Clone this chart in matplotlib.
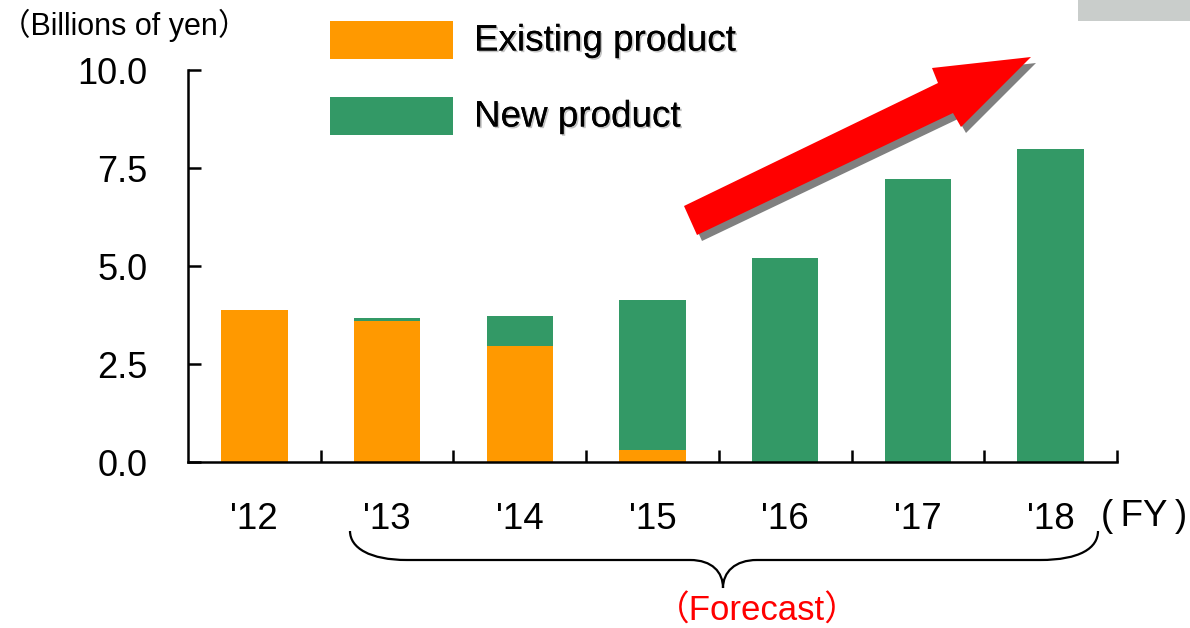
import matplotlib
matplotlib.use("Agg")
import matplotlib.pyplot as plt
import matplotlib.transforms as mtransforms
from matplotlib.patches import Polygon, Rectangle, PathPatch
from matplotlib.path import Path
import matplotlib.patheffects as pe
import numpy as np

plt.rcParams['font.family'] = ['Liberation Sans', 'Noto Sans CJK JP', 'DejaVu Sans']

# ---- data ----
years = ["'12", "'13", "'14", "'15", "'16", "'17", "'18"]
existing = [3.87, 3.59, 2.96, 0.31, 0.0, 0.0, 0.0]
new = [0.0, 0.08, 0.76, 3.82, 5.20, 7.22, 7.98]
yticks = [0.0, 2.5, 5.0, 7.5, 10.0]
series_names = ["Existing product", "New product"]

orange = "#FF9900"
green = "#339966"

W, H = 1190, 628
fig = plt.figure(figsize=(W / 100, H / 100), dpi=100)
# pixel transform (origin top-left)
px = mtransforms.Affine2D().scale(1 / W, -1 / H).translate(0, 1) + fig.transFigure

ax = fig.add_axes([188 / W, 1 - 462 / H, (1117 - 188) / W, (462 - 70) / H])
x = np.arange(len(years))
ax.bar(x, existing, width=0.5, color=orange, linewidth=0)
ax.bar(x, new, width=0.5, bottom=existing, color=green, linewidth=0)

ax.set_xlim(-0.5, len(years) - 0.5)
ax.set_ylim(0, 10)
for s in ['top', 'right']:
    ax.spines[s].set_visible(False)
for s in ['left', 'bottom']:
    ax.spines[s].set_linewidth(1.8)

ax.set_yticks(yticks, [f"{v:.1f}" for v in yticks])
ax.tick_params(axis='y', direction='in', length=9, width=1.8, pad=29, labelsize=26)
ax.set_xticks(np.arange(len(years)) + 0.5)
ax.set_xticklabels([])
ax.tick_params(axis='x', which='major', direction='in', length=9, width=1.8)
ax.set_xticks(x, years, minor=True)
ax.tick_params(axis='x', which='minor', length=0, pad=29, labelsize=26.5)

# unit label
fig.text(0 / W, 1 - 25 / H, "（Billions of yen）", fontsize=22, ha='left', va='center')
# FY label
fig.text(1101 / W, 1 - 517 / H, "(\u2009FY\u2009)", fontsize=26.5, ha='left', va='center')

# legend (manual)
shadow = [pe.withSimplePatchShadow(offset=(1.2, -1.2), shadow_rgbFace='#888888', alpha=0.5), pe.Normal()]
for i, (name, col) in enumerate(zip(series_names, [orange, green])):
    y0 = 21 + i * 76
    fig.patches.append(Rectangle((330, y0 + 38), 123, -38, transform=px, color=col, linewidth=0))
    fig.text(474 / W, 1 - (y0 + 20) / H, name, fontsize=26.5, ha='left', va='center', path_effects=shadow)

# gray box at top right
fig.patches.append(Rectangle((1078, 21), 112, -21, transform=px, color='#C9CDCB', linewidth=0))

# red arrow with shadow
arrow_pts = [(684, 206), (938, 83), (932, 68), (1031, 57), (961, 127), (953, 113), (697, 235)]
shadow_pts = [(a + 5, b + 6) for a, b in arrow_pts]
fig.patches.append(Polygon(shadow_pts, closed=True, transform=px, color='#808080', linewidth=0))
fig.patches.append(Polygon(arrow_pts, closed=True, transform=px, color='#FF0000', linewidth=0))

# brace
verts = [(350, 531), (350, 548), (370, 560), (407, 560),
         (690, 560),
         (712, 560), (723, 572), (723, 588),
         (723, 572), (735, 560), (757, 560),
         (1040, 560),
         (1080, 560), (1098, 548), (1098, 531)]
codes = [Path.MOVETO, Path.CURVE4, Path.CURVE4, Path.CURVE4,
         Path.LINETO,
         Path.CURVE4, Path.CURVE4, Path.CURVE4,
         Path.CURVE4, Path.CURVE4, Path.CURVE4,
         Path.LINETO,
         Path.CURVE4, Path.CURVE4, Path.CURVE4]
fig.patches.append(PathPatch(Path(verts, codes), transform=px, fill=False, edgecolor='black', linewidth=1.6))

fig.text(757 / W, 1 - 621 / H, "（Forecast）", fontsize=25, color='#FF0000', ha='center', va='baseline')

fig.savefig("out.png", dpi=100)
